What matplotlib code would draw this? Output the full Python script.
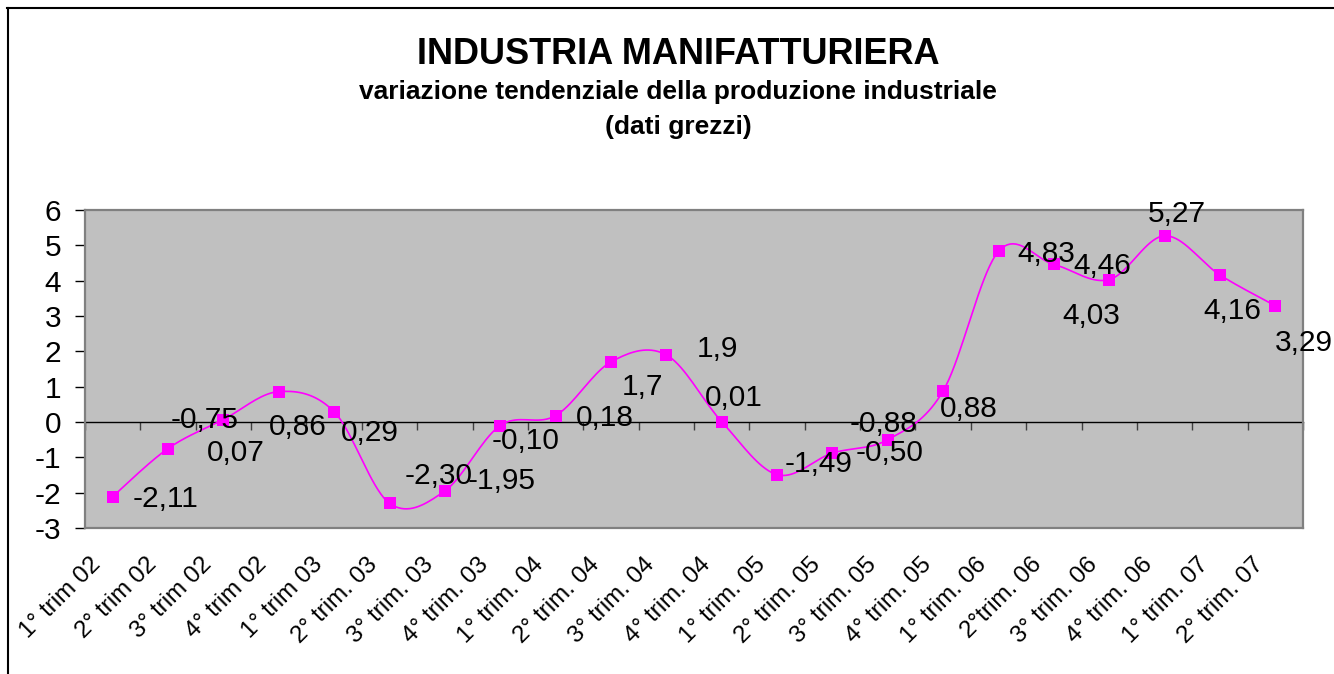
import numpy as np
import matplotlib
matplotlib.use('Agg')
import matplotlib.pyplot as plt
from matplotlib.lines import Line2D
from matplotlib.transforms import ScaledTranslation

CATEGORIES = ['1° trim 02', '2° trim 02', '3° trim 02', '4° trim 02',
              '1° trim 03', '2° trim. 03', '3° trim. 03', '4° trim. 03',
              '1° trim. 04', '2° trim. 04', '3° trim. 04', '4° trim. 04',
              '1° trim. 05', '2° trim. 05', '3° trim. 05', '4° trim. 05',
              '1° trim. 06', '2°trim. 06', '3° trim. 06', '4° trim. 06',
              '1° trim. 07', '2° trim. 07']
VALUES = [-2.11, -0.75, 0.07, 0.86, 0.29, -2.30, -1.95, -0.10, 0.18, 1.7, 1.9,
          0.01, -1.49, -0.88, -0.50, 0.88, 4.83, 4.46, 4.03, 5.27, 4.16, 3.29]
LABELS = ['-2,11', '-0,75', '0,07', '0,86', '0,29', '-2,30', '-1,95', '-0,10',
          '0,18', '1,7', '1,9', '0,01', '-1,49', '-0,88', '-0,50', '0,88',
          '4,83', '4,46', '4,03', '5,27', '4,16', '3,29']
Y_TICKS = [-3, -2, -1, 0, 1, 2, 3, 4, 5, 6]

# label placement (pixels: left edge dx, vertical centre dy, +down) as dragged in Excel
LABEL_OFFSETS = [(20, -1), (3, -31), (-17, 30), (-10, 32), (7, 18), (15, -30),
                 (23, -13), (-9, 12), (20, -1), (11, 22), (30, -9), (-17, -27),
                 (8, -14), (17, -32), (-32, 10), (-3, 15), (19, 0), (20, -1),
                 (-47, 33), (-17, -25), (-17, 33), (0, 34)]

MAGENTA = '#FF00FF'
PLOT_BG = '#C0C0C0'
BORDER = '#808080'
FONT = 'Liberation Sans'

plt.rcParams.update({'font.family': FONT})


def smooth(x, y, steps=20):
    # Excel-style smoothed line: Catmull-Rom segments as cubic Beziers
    p = np.column_stack([x, y]).astype(float)
    ext = np.vstack([p[0], p, p[-1]])
    t = np.linspace(0, 1, steps)[:, None]
    out = []
    for i in range(len(p) - 1):
        p0, p1, p2, p3 = ext[i], ext[i + 1], ext[i + 2], ext[i + 3]
        c1 = p1 + (p2 - p0) / 6
        c2 = p2 - (p3 - p1) / 6
        seg = ((1 - t) ** 3) * p1 + 3 * ((1 - t) ** 2) * t * c1 \
            + 3 * (1 - t) * t ** 2 * c2 + t ** 3 * p2
        out.append(seg if i == 0 else seg[1:])
    out = np.vstack(out)
    return out[:, 0], out[:, 1]


W, H = 1334, 674
fig = plt.figure(figsize=(W / 100, H / 100), dpi=100)
fig.patch.set_facecolor('white')

# outer chart frame (left and top visible, rest runs off the picture)
fig.add_artist(Line2D([7.5 / W, 7.5 / W], [0, 1 - 8 / H], color='black', lw=1.5))
fig.add_artist(Line2D([7 / W, 1], [1 - 8 / H, 1 - 8 / H], color='black', lw=1.5))

ax = fig.add_axes([85 / W, (H - 528) / H, (1303 - 85) / W, (528 - 210) / H])
ax.set_facecolor(PLOT_BG)
for s in ax.spines.values():
    s.set_color(BORDER)
    s.set_linewidth(1.6)

x = np.arange(len(VALUES))
ax.set_xlim(-0.5, len(VALUES) - 0.5)
ax.set_ylim(Y_TICKS[0], Y_TICKS[-1])

# zero axis with category boundary ticks
zero_pos = (0 - Y_TICKS[0]) / (Y_TICKS[-1] - Y_TICKS[0])
sec = ax.secondary_xaxis(zero_pos)
sec.spines['bottom'].set_color('black')
sec.spines['bottom'].set_linewidth(1.0)
sec.set_xticks(np.arange(-0.5, len(VALUES), 1.0))
sec.tick_params(axis='x', direction='out', length=5.5, width=1.0,
                color='#404040', labelbottom=False)

xs, ys = smooth(x, VALUES)
ax.plot(xs, ys, color=MAGENTA, lw=1.2, zorder=3)
ax.plot(x, VALUES, 's', color=MAGENTA, markersize=9, markeredgewidth=0, zorder=4)

for i, (v, lab) in enumerate(zip(VALUES, LABELS)):
    dx, dy = LABEL_OFFSETS[i]
    ax.annotate(lab, (i, v), xytext=(dx, -(dy + 3)), textcoords='offset pixels',
                ha='left', va='center', fontsize=21.5, color='black',
                annotation_clip=False, zorder=5)

ax.set_yticks(Y_TICKS)
ax.set_yticklabels([str(t) for t in Y_TICKS])
ax.tick_params(axis='y', direction='out', length=7.2, width=1.0, color='black',
               pad=10, labelsize=21.5)

ax.set_xticks(x)
ax.set_xticklabels(CATEGORIES, rotation=45, ha='right', va='center',
                   rotation_mode='anchor', fontsize=17.5)
ax.tick_params(axis='x', length=0, pad=24)
shift = ScaledTranslation(-15 / 100, 0, fig.dpi_scale_trans)
for lbl in ax.get_xticklabels():
    lbl.set_transform(lbl.get_transform() + shift)

cx = 678 / W
fig.text(cx, 1 - 64 / H, 'INDUSTRIA MANIFATTURIERA', ha='center', va='baseline',
         fontsize=26, fontweight='bold')
fig.text(cx, 1 - 99 / H, 'variazione tendenziale della produzione industriale',
         ha='center', va='baseline', fontsize=19, fontweight='bold')
fig.text(cx, 1 - 134 / H, '(dati grezzi)', ha='center', va='baseline',
         fontsize=19, fontweight='bold')

fig.savefig('out.png', dpi=100, facecolor='white')
